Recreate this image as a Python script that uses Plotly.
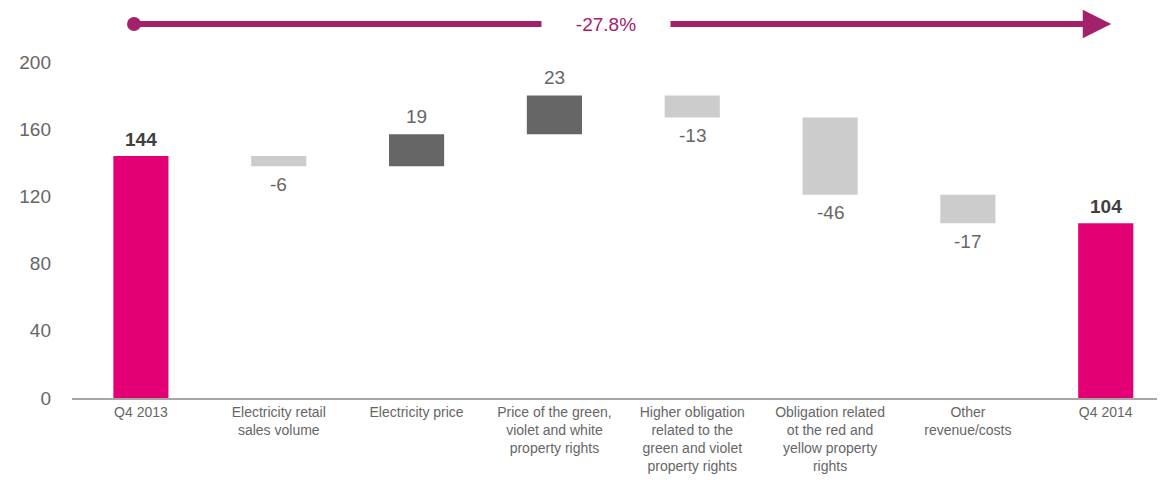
import plotly.graph_objects as go

categories = [
    "Q4 2013",
    "Electricity retail<br>sales volume",
    "Electricity price",
    "Price of the green,<br>violet and white<br>property rights",
    "Higher obligation<br>related to the<br>green and violet<br>property rights",
    "Obligation related<br>ot the red and<br>yellow property<br>rights",
    "Other<br>revenue/costs",
    "Q4 2014",
]
values = [144, -6, 19, 23, -13, -46, -17, 104]
measures = ["absolute", "relative", "relative", "relative", "relative", "relative", "relative", "total"]
change_label = "-27.8%"

MAGENTA = "#E20074"
ARROW = "#A3216A"
GREY_TXT = "#666666"

fig = go.Figure()

fig.add_trace(
    go.Waterfall(
        x=categories, y=values, measure=measures,
        increasing=dict(marker=dict(color="#666666")),
        decreasing=dict(marker=dict(color="#CCCCCC")),
        totals=dict(marker=dict(color=MAGENTA)),
        connector=dict(visible=False),
        width=0.4,
        showlegend=False,
        hoverinfo="skip",
    )
)

# value labels at bar ends
running = 0
for cat, val, m in zip(categories, values, measures):
    if m == "relative":
        running += val
        txt = f"{val}"
        shift = 18 if val > 0 else -18
        font = dict(size=19, color=GREY_TXT, family="Liberation Sans, Arial")
    else:
        running = val
        txt = f"<b>{val}</b>"
        shift = 17
        font = dict(size=19, color="#404040", family="Liberation Sans, Arial")
    fig.add_annotation(x=cat, y=running, text=txt, showarrow=False,
                       yshift=shift, font=font, yanchor="middle")

# overall change arrow
arrow_y = 1.113
fig.add_annotation(x=7.04, y=arrow_y, xref="x", yref="paper",
                   ax=-0.05, ay=0, axref="x", ayref="pixel",
                   text="", showarrow=True, arrowhead=2, arrowsize=0.95,
                   arrowwidth=6, arrowcolor=ARROW, standoff=0, startstandoff=0)
fig.add_shape(type="circle", xref="x", yref="paper", xsizemode="pixel", ysizemode="pixel",
              xanchor=-0.05, yanchor=arrow_y, x0=-7, x1=7, y0=-7, y1=7,
              fillcolor=ARROW, line=dict(width=0))
fig.add_annotation(x=0.4886, y=arrow_y, xref="paper", yref="paper", text=change_label,
                   showarrow=False, bgcolor="white", width=126, height=30,
                   xanchor="center", yanchor="middle",
                   font=dict(size=19, color=ARROW, family="Liberation Sans, Arial"))

# the page adds an 8px body margin, so the figure is drawn 8px smaller
fig.update_layout(
    width=1157, height=472,
    margin=dict(l=64, r=0, t=54, b=82, autoexpand=False),
    plot_bgcolor="white", paper_bgcolor="white",
    font=dict(family="Liberation Sans, Arial", color=GREY_TXT),
    xaxis=dict(range=[-0.5, 7.43], showline=True, linecolor="#A6A6A6", linewidth=1.5,
               tickfont=dict(size=14, color=GREY_TXT), showgrid=False, ticks="",
               ticklabelstandoff=0),
    yaxis=dict(range=[0, 200], tickvals=[0, 40, 80, 120, 160, 200], showgrid=False,
               zeroline=False, showline=False, tickfont=dict(size=19, color=GREY_TXT),
               ticklabelstandoff=20),
)

fig.write_html("out.html")
